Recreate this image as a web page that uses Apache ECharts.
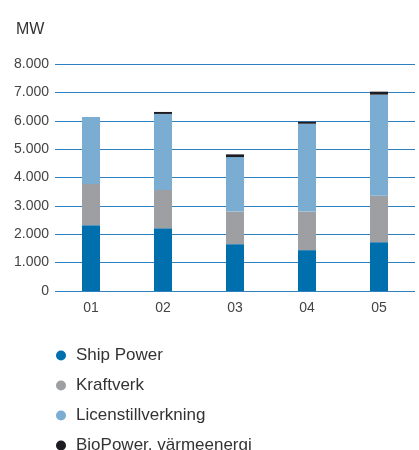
<!DOCTYPE html>
<html>
<head>
<meta charset="utf-8">
<style>
  html, body { margin: 0; padding: 0; background: #fff; }
  #chart { width: 419px; height: 450px; }
</style>
<script src="https://cdn.jsdelivr.net/npm/echarts@6/dist/echarts.min.js"></script>
</head>
<body>
<div id="chart"></div>
<script>
// Levererad effekt per affärsområde (MW)
const categories = ['01', '02', '03', '04', '05'];
const shipPower = [2320, 2210, 1650, 1440, 1720];
const kraftverk = [1450, 1350, 1150, 1360, 1635];
const licenstillverkning = [2360, 2680, 1920, 3095, 3565];
const bioPower = [0, 70, 95, 70, 105];
const yTicks = [0, 1000, 2000, 3000, 4000, 5000, 6000, 7000, 8000];

const seriesDefs = [
  { name: 'Ship Power', data: shipPower, color: '#006fae' },
  { name: 'Kraftverk', data: kraftverk, color: '#9d9fa2' },
  { name: 'Licenstillverkning', data: licenstillverkning, color: '#7badd3' },
  { name: 'BioPower, värmeenergi', data: bioPower, color: '#1c1c22' }
];

const fmt = v => v === 0 ? '0' : v.toLocaleString('de-DE');
const font = 'Liberation Sans, Arial, Helvetica, sans-serif';

const chart = echarts.init(document.getElementById('chart'), null, { renderer: 'canvas' });
chart.setOption({
  animation: false,
  textStyle: { fontFamily: font },
  title: {
    text: 'MW',
    left: 11,
    top: 17,
    textStyle: { fontFamily: font, fontSize: 16, fontWeight: 'normal', color: '#333' }
  },
  grid: { left: 55, width: 360, top: 64, height: 227 },
  legend: {
    orient: 'vertical',
    left: 51,
    top: 342,
    height: 110,
    itemGap: 13,
    itemWidth: 20,
    itemHeight: 10,
    icon: 'circle',
    textStyle: { fontFamily: font, fontSize: 17, color: '#333' },
    data: seriesDefs.map(s => s.name)
  },
  xAxis: {
    type: 'category',
    data: categories,
    axisLine: { show: false },
    axisTick: { show: false },
    axisLabel: { color: '#444', fontSize: 14, margin: 10, fontFamily: font }
  },
  yAxis: {
    type: 'value',
    min: yTicks[0],
    max: yTicks[yTicks.length - 1],
    interval: 1000,
    axisLine: { show: false },
    axisTick: { show: false },
    axisLabel: { color: '#444', fontSize: 14, margin: 6, fontFamily: font, formatter: fmt },
    splitLine: { lineStyle: { color: '#2f80bf', width: 1 } }
  },
  series: seriesDefs.map(s => ({
    name: s.name,
    type: 'bar',
    stack: 'total',
    data: s.data,
    barWidth: 18,
    itemStyle: { color: s.color }
  }))
});
</script>
</body>
</html>
